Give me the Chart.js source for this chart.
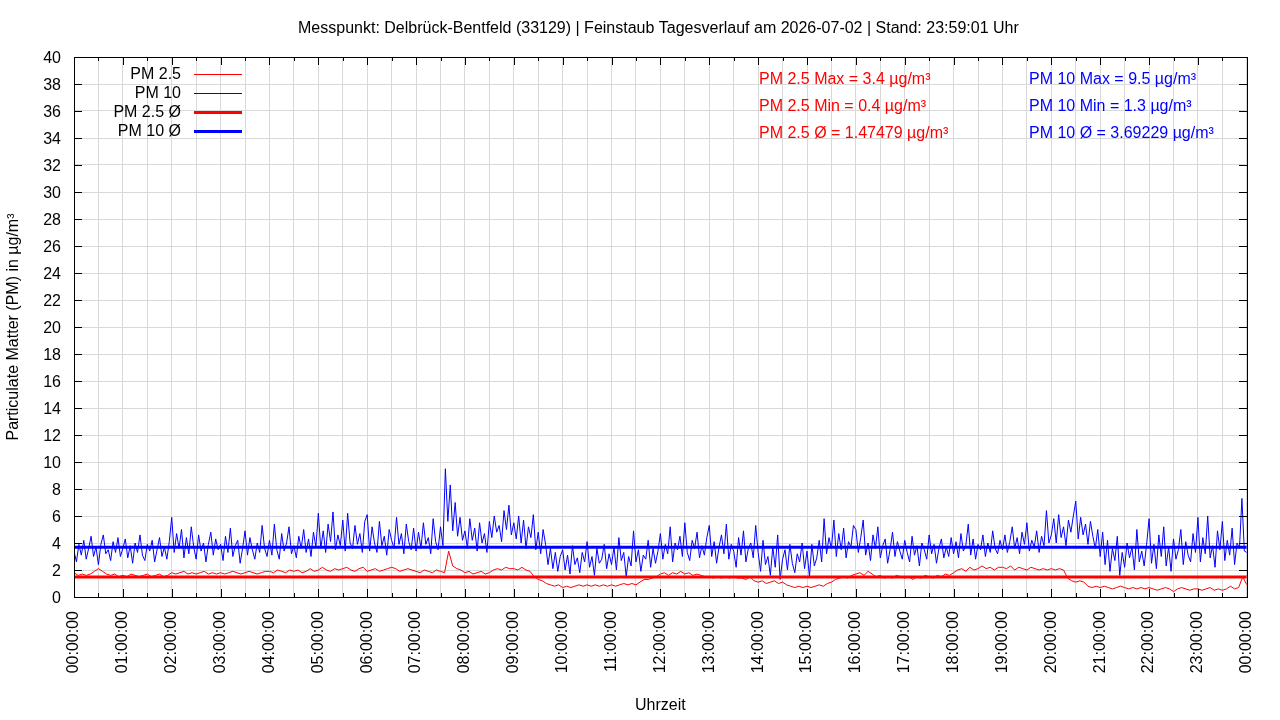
<!DOCTYPE html>
<html>
<head>
<meta charset="utf-8">
<script src="https://cdn.jsdelivr.net/npm/chart.js@4.4.1/dist/chart.umd.min.js"></script>
<style>
  body { margin: 0; background: #fff; }
  #wrap { width: 1280px; height: 720px; }
</style>
</head>
<body>
<div id="wrap"><canvas id="pmChart" width="1280" height="720"></canvas></div>
<script>
const fontName = '"Liberation Sans", Arial, sans-serif';
const red = '#ff0000';
const blue = '#0000ff';
const gridGrey = '#d9d9d9';

const titleText = 'Messpunkt: Delbrück-Bentfeld (33129) | Feinstaub Tagesverlauf am 2026-07-02 | Stand: 23:59:01 Uhr';

// PM 2.5: 5-minute values, 00:00 .. 24:00 (one row per hour)
const pm25 = [
  1.8, 1.6, 1.7, 1.6, 1.7, 1.9, 2.1, 1.9, 1.7, 1.6, 1.7, 1.5,
  1.6, 1.5, 1.7, 1.6, 1.5, 1.6, 1.7, 1.5, 1.6, 1.7, 1.5, 1.6,
  1.8, 1.7, 1.8, 1.9, 1.7, 1.8, 1.7, 1.8, 1.9, 1.7, 1.8, 1.7,
  1.8, 1.7, 1.8, 1.9, 1.8, 1.7, 1.8, 1.9, 1.8, 1.7, 1.8, 1.9,
  1.9, 1.8, 2.0, 1.9, 1.8, 2.0, 1.9, 2.0, 1.8, 1.9, 2.1, 1.9,
  2.0, 2.2, 2.0, 1.9, 2.1, 2.0, 2.1, 2.2, 2.0, 1.9, 2.1, 2.2,
  1.9, 2.0, 2.1, 1.9, 2.0, 2.1, 2.2, 2.1, 1.9, 2.0, 2.1, 2.0,
  1.9, 1.8, 2.0, 1.9, 1.8, 2.0, 1.9, 1.8, 3.4, 2.3, 2.1, 2.0,
  1.8, 1.9, 1.7, 1.8, 1.9, 1.7, 1.8, 2.0, 2.1, 2.0, 2.2, 2.1,
  2.1, 2.0, 2.2, 2.0, 1.9, 1.5, 1.3, 1.2, 1.0, 0.9, 0.8, 0.9,
  0.7, 0.8, 0.7, 0.8, 0.9, 0.8, 0.9, 0.8, 0.9, 0.8, 0.9, 0.8,
  0.9, 0.8, 0.9, 1.0, 0.9, 1.0, 0.9, 1.1, 1.3, 1.3, 1.4, 1.5,
  1.7, 1.8, 1.6, 1.8, 1.7, 1.9, 1.7, 1.8, 1.6, 1.7, 1.6, 1.5,
  1.5, 1.4, 1.5, 1.4, 1.5, 1.4, 1.5, 1.4, 1.4, 1.3, 1.5, 1.2,
  1.1, 1.2, 1.0, 1.1, 1.2, 1.0, 1.1, 0.9, 0.8, 0.7, 0.8, 0.7,
  0.8, 0.7, 0.8, 0.9, 0.8, 1.0, 1.1, 1.3, 1.4, 1.5, 1.4, 1.6,
  1.7, 1.8, 1.6, 1.9, 1.7, 1.5, 1.6, 1.4, 1.5, 1.4, 1.6, 1.5,
  1.4, 1.5, 1.3, 1.5, 1.4, 1.6, 1.5, 1.4, 1.6, 1.5, 1.7, 1.6,
  1.8, 2.0, 2.1, 1.9, 2.2, 2.0, 2.1, 2.3, 2.1, 2.2, 2.0, 2.2,
  2.2, 2.1, 2.3, 2.0, 2.2, 2.1, 2.0, 2.2, 2.1, 2.0, 2.1, 2.0,
  2.1, 2.0, 2.1, 2.0, 1.4, 1.2, 1.1, 1.2, 1.1, 0.8, 0.7, 0.8,
  0.7, 0.8, 0.7, 0.6, 0.7, 0.8, 0.7, 0.6, 0.7, 0.6, 0.7, 0.6,
  0.7, 0.6, 0.5, 0.6, 0.7, 0.6, 0.4, 0.6, 0.7, 0.6, 0.5, 0.6,
  0.6, 0.5, 0.6, 0.7, 0.5, 0.6, 0.5, 0.6, 0.8, 0.6, 0.7, 1.5,
  0.9
];

// PM 10: 3-minute values, 00:00 .. 24:00 (one row per hour)
const pm10 = [
  3.4, 2.6, 3.9, 3.1, 4.2, 2.8, 3.6, 4.5, 3.0, 3.7, 2.4, 3.9, 4.6, 3.2, 3.5, 2.7, 4.1, 3.3, 4.4, 3.0,
  3.6, 4.3, 2.9, 3.8, 2.5, 4.0, 3.3, 4.6, 3.1, 2.7, 3.9, 3.4, 4.2, 2.6, 3.5, 4.4, 3.0, 3.7, 2.8, 4.1,
  5.9, 3.3, 4.7, 3.6, 5.0, 2.9, 4.4, 3.2, 5.2, 3.7, 2.8, 4.6, 3.4, 4.0, 2.6, 3.9, 4.8, 3.1, 4.3, 3.5,
  3.9, 2.7, 4.5, 3.3, 5.1, 3.0, 3.8, 4.2, 2.5, 3.6, 4.9, 3.1, 4.4, 3.5, 2.8, 4.0, 3.3, 5.3, 3.6, 3.0,
  4.2, 3.1, 5.4, 3.5, 2.8, 4.7, 3.4, 4.0, 5.2, 3.2, 3.8, 2.9, 4.5, 3.6, 5.0, 3.3, 4.3, 3.0, 4.8, 3.7,
  6.2, 3.6, 4.9, 3.3, 5.4, 4.1, 6.3, 3.5, 4.6, 3.8, 5.7, 3.4, 6.2, 4.0, 3.6, 5.3, 3.9, 4.7, 3.3, 5.6,
  6.1, 3.4, 5.2, 4.0, 3.3, 5.6, 3.8, 4.5, 3.1, 5.0, 4.2, 3.6, 5.9, 3.9, 4.7, 3.2, 5.4, 4.1, 3.5, 5.1,
  3.4, 4.8, 3.6, 5.5, 3.9, 4.4, 3.2, 5.8, 4.1, 3.5, 5.2, 3.8, 9.5, 5.6, 8.3, 4.9, 7.0, 4.5, 5.9, 4.2,
  4.9, 3.6, 5.8, 4.2, 5.1, 3.4, 5.5, 4.0, 4.7, 3.3, 5.6, 4.4, 6.0, 4.8, 5.3, 4.1, 6.4, 5.0, 6.8, 4.6,
  5.5, 4.3, 6.0, 4.0, 5.7, 3.6, 5.2, 4.4, 6.1, 3.5, 4.8, 3.2, 5.0, 3.9, 2.4, 3.6, 2.1, 3.3, 1.9, 3.0,
  3.5, 2.0, 3.1, 1.7, 3.8, 2.4, 2.9, 1.8, 3.3, 2.6, 4.1, 2.2, 3.0, 1.6, 3.6, 2.5, 2.8, 3.9, 2.1, 3.2,
  2.4, 3.7, 2.0, 4.4, 2.7, 3.3, 1.5, 3.0, 2.3, 4.9, 2.6, 3.5, 1.9, 3.1, 2.8, 4.2, 2.2, 3.6, 2.5, 3.4,
  4.7, 2.8, 3.9, 3.2, 5.2, 2.6, 4.0, 3.5, 4.5, 3.0, 5.5, 3.3, 2.7, 4.2, 3.6, 4.8, 2.9, 3.8, 3.1, 4.4,
  5.3, 3.0, 4.1, 2.5, 3.7, 4.6, 3.2, 5.4, 2.8, 3.9, 3.4, 2.2, 4.4, 3.1, 4.9, 2.6, 3.6, 4.0, 2.9, 5.3,
  3.3, 1.9, 4.2, 2.4, 3.0, 1.6, 3.7, 2.2, 4.6, 1.3, 2.8, 3.5, 2.0, 3.9, 2.5, 1.8, 3.2, 2.6, 4.0, 2.1,
  3.4, 1.5, 3.9, 2.3, 2.9, 4.2, 2.6, 5.8, 3.2, 4.4, 3.6, 5.7, 3.0, 4.7, 3.5, 5.1, 2.9, 4.1, 3.7, 5.3,
  5.0, 3.3, 4.4, 5.7, 3.1, 4.0, 2.7, 4.6, 3.6, 5.2, 2.9, 3.8, 4.3, 2.5, 3.5, 4.8, 3.0, 4.1, 3.4, 2.8,
  4.2, 3.3, 2.6, 4.5, 3.1, 3.8, 2.3, 4.0, 3.5, 2.8, 4.6, 3.2, 3.9, 2.5, 3.6, 4.3, 2.9, 3.7, 3.0, 4.4,
  3.2, 4.1, 2.9, 4.7, 3.4, 3.8, 5.4, 3.1, 4.3, 2.8, 3.9, 3.5, 4.6, 3.0, 4.0, 3.3, 4.9, 3.6, 3.2, 4.2,
  3.5, 4.6, 3.3, 4.1, 5.2, 3.6, 4.4, 3.2, 4.8, 3.9, 5.5, 3.4, 4.2, 3.7, 4.9, 3.3, 4.5, 3.8, 6.4, 4.0,
  4.6, 5.8, 4.0, 6.1, 4.4, 5.2, 3.8, 5.7, 4.8, 6.0, 7.1, 4.3, 5.9, 4.6, 5.4, 3.9, 5.6, 4.5, 3.6, 5.0,
  3.0, 4.8, 2.4, 4.2, 1.9, 3.6, 2.7, 4.5, 1.6, 3.3, 2.2, 4.0, 2.9, 3.7, 2.0, 5.0, 2.6, 3.4, 2.3, 3.9,
  5.8, 2.5, 3.9, 2.1, 4.6, 3.0, 5.2, 2.3, 3.7, 1.9, 4.3, 2.8, 3.5, 5.0, 2.4, 4.1, 3.1, 2.6, 4.7, 3.3,
  5.9, 2.6, 4.4, 3.2, 6.0, 2.9, 3.8, 2.2, 4.9, 3.5, 5.6, 2.7, 4.2, 3.1, 5.1, 2.4, 4.0, 3.6, 7.3, 3.4,
  3.3
];

const pm25Avg = 1.47479;
const pm10Avg = 3.69229;

const statNames = ['Max', 'Min', 'Ø'];
const pm25Stats = [3.4, 0.4, 1.47479];
const pm10Stats = [9.5, 1.3, 3.69229];

function hhmmss(h) {
  return String(h % 24).padStart(2, '0') + ':00:00';
}

// gnuplot look: frame, inward ticks on all sides, key and stats text
const gnuplotDecor = {
  id: 'gnuplotDecor',
  afterDatasetsDraw(chart) {
    const { ctx, scales: { x, y } } = chart;
    const xl = Math.round(x.getPixelForValue(0));
    const xr = Math.round(x.getPixelForValue(24));
    const yt = Math.round(y.getPixelForValue(40));
    const yb = Math.round(y.getPixelForValue(0));
    ctx.save();
    ctx.strokeStyle = '#000';
    ctx.lineWidth = 1;
    ctx.beginPath();
    x.ticks.forEach(t => {
      const px = Math.round(x.getPixelForValue(t.value)) + 0.5;
      const len = Number.isInteger(t.value) ? 8 : 4;
      ctx.moveTo(px, yb); ctx.lineTo(px, yb - len);
      ctx.moveTo(px, yt); ctx.lineTo(px, yt + len);
    });
    y.ticks.forEach(t => {
      const py = Math.round(y.getPixelForValue(t.value)) + 0.5;
      const len = t.value % 2 === 0 ? 8 : 4;
      ctx.moveTo(xl, py); ctx.lineTo(xl + len, py);
      ctx.moveTo(xr, py); ctx.lineTo(xr - len, py);
    });
    ctx.stroke();
    ctx.strokeRect(xl + 0.5, yt + 0.5, xr - xl, yb - yt);
    ctx.restore();
  },
  afterDraw(chart) {
    const { ctx, chartArea } = chart;
    ctx.save();
    ctx.font = '16px ' + fontName;
    ctx.fillStyle = '#000';
    ctx.textAlign = 'center';
    ctx.textBaseline = 'alphabetic';
    ctx.fillText(titleText, (chartArea.left + chartArea.right) / 2 - 2, 33);

    // key
    ctx.textAlign = 'right';
    chart.data.datasets.forEach((ds, i) => {
      ctx.fillStyle = '#000';
      ctx.fillText(ds.label, 181, 79 + 19 * i);
      ctx.strokeStyle = ds.borderColor;
      ctx.lineWidth = ds.borderWidth;
      ctx.beginPath();
      ctx.moveTo(194, 74.5 + 19 * i);
      ctx.lineTo(242, 74.5 + 19 * i);
      ctx.stroke();
    });

    // stats
    ctx.textAlign = 'left';
    statNames.forEach((n, i) => {
      const by = 84 + 27.2 * i;
      ctx.fillStyle = red;
      ctx.fillText('PM 2.5 ' + n + ' = ' + pm25Stats[i] + ' µg/m³', 759, by);
      ctx.fillStyle = blue;
      ctx.fillText('PM 10 ' + n + ' = ' + pm10Stats[i] + ' µg/m³', 1029, by);
    });
    ctx.restore();
  }
};

const ctxPm = document.getElementById('pmChart').getContext('2d');
new Chart(ctxPm, {
  type: 'line',
  data: {
    datasets: [
      { label: 'PM 2.5', data: pm25.map((v, i) => ({ x: i / 12, y: v })), borderColor: red, borderWidth: 1, order: 3 },
      { label: 'PM 10', data: pm10.map((v, i) => ({ x: i / 20, y: v })), borderColor: blue, borderWidth: 1, order: 2 },
      { label: 'PM 2.5 Ø', data: [{ x: 0, y: pm25Avg }, { x: 24, y: pm25Avg }], borderColor: red, borderWidth: 3, order: 1 },
      { label: 'PM 10 Ø', data: [{ x: 0, y: pm10Avg }, { x: 24, y: pm10Avg }], borderColor: blue, borderWidth: 3, order: 0 }
    ]
  },
  options: {
    responsive: false,
    animation: false,
    events: [],
    layout: { padding: { top: 57, right: 31, left: 0, bottom: 0 } },
    elements: { point: { radius: 0 }, line: { tension: 0, fill: false } },
    plugins: { legend: { display: false }, tooltip: { enabled: false }, title: { display: false } },
    scales: {
      x: {
        type: 'linear', min: 0, max: 24,
        afterFit: s => { s.height = 123; },
        border: { display: false },
        grid: { color: gridGrey, drawTicks: false },
        ticks: {
          stepSize: 0.5, autoSkip: false, minRotation: 90, maxRotation: 90, padding: 14,
          color: '#000', font: { family: fontName, size: 16 },
          callback: v => Number.isInteger(v) ? hhmmss(v) : ''
        },
        title: { display: true, text: 'Uhrzeit', color: '#000', font: { family: fontName, size: 16 }, padding: { top: 0, bottom: 5 } }
      },
      y: {
        min: 0, max: 40,
        afterFit: s => { s.width = 74; },
        border: { display: false },
        grid: { color: gridGrey, drawTicks: false },
        ticks: {
          stepSize: 1, padding: 13, labelOffset: 2, color: '#000', font: { family: fontName, size: 16 },
          callback: v => v % 2 === 0 ? v : ''
        },
        title: { display: true, text: 'Particulate Matter (PM) in µg/m³', color: '#000', font: { family: fontName, size: 16 }, padding: { top: 4, bottom: 0 } }
      }
    }
  },
  plugins: [gnuplotDecor]
});
</script>
</body>
</html>
